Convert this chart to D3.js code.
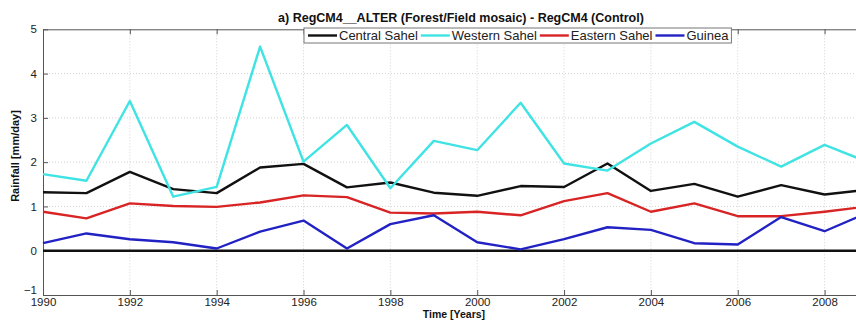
<!DOCTYPE html>
<html>
<head>
<meta charset="utf-8">
<script src="https://cdn.jsdelivr.net/npm/d3@7"></script>
<style>
  html, body { margin: 0; padding: 0; background: #fff; }
  svg { display: block; font-family: "Liberation Sans", Arial, sans-serif; }
</style>
</head>
<body>
<svg id="chart" width="856" height="320"></svg>
<script>
// Annual rainfall difference (ALTER - Control), mm/day
const years = [1990, 1991, 1992, 1993, 1994, 1995, 1996, 1997, 1998, 1999,
               2000, 2001, 2002, 2003, 2004, 2005, 2006, 2007, 2008, 2009];
const centralSahel = [1.32, 1.30, 1.78, 1.39, 1.30, 1.88, 1.96, 1.43, 1.54, 1.31,
                      1.24, 1.46, 1.44, 1.97, 1.35, 1.51, 1.22, 1.48, 1.27, 1.38];
const westernSahel = [1.73, 1.58, 3.38, 1.22, 1.44, 4.61, 2.01, 2.84, 1.41, 2.48,
                      2.27, 3.34, 1.97, 1.81, 2.42, 2.91, 2.35, 1.90, 2.39, 2.00];
const easternSahel = [0.88, 0.73, 1.07, 1.01, 0.99, 1.09, 1.25, 1.21, 0.86, 0.84,
                      0.88, 0.80, 1.12, 1.30, 0.88, 1.07, 0.78, 0.78, 0.88, 1.00];
const guinea       = [0.17, 0.39, 0.26, 0.19, 0.05, 0.43, 0.68, 0.05, 0.60, 0.80,
                      0.19, 0.03, 0.26, 0.53, 0.47, 0.17, 0.14, 0.76, 0.44, 0.86];
const seriesNames  = ["Central Sahel", "Western Sahel", "Eastern Sahel", "Guinea"];
const seriesColors = ["#111111", "#3fe3e3", "#d82424", "#2222c4"];
const xTicks = [1990, 1992, 1994, 1996, 1998, 2000, 2002, 2004, 2006, 2008];
const yTicks = [-1, 0, 1, 2, 3, 4, 5];
const titleText = "a) RegCM4__ALTER (Forest/Field mosaic) - RegCM4 (Control)";
const xLabelText = "Time [Years]";
const yLabelText = "Rainfall [mm/day]";

const seriesValues = [centralSahel, westernSahel, easternSahel, guinea];

const svg = d3.select("#chart");
const m = { left: 43, right: 868, top: 29.3, bottom: 295 };

const x = d3.scaleLinear().domain([1990, 2009]).range([m.left, m.right]);
const y = d3.scaleLinear().domain([-1, 5]).range([m.bottom, m.top]);

// Grid
const grid = svg.append("g");
grid.selectAll("line.vg").data(xTicks.slice(1)).join("line")
  .attr("x1", d => x(d)).attr("x2", d => x(d))
  .attr("y1", m.top).attr("y2", m.bottom)
  .attr("stroke", "#c8c8c8").attr("stroke-width", 0.8).attr("stroke-dasharray", "1,2");
grid.selectAll("line.hg").data(yTicks.slice(1, -1)).join("line")
  .attr("x1", m.left).attr("x2", m.right)
  .attr("y1", d => y(d)).attr("y2", d => y(d))
  .attr("stroke", "#c8c8c8").attr("stroke-width", 0.8).attr("stroke-dasharray", "1,2");

// Axes (ticks pointing inward)
const xAxis = svg.append("g").attr("transform", `translate(0,${m.bottom})`)
  .call(d3.axisBottom(x).tickValues(xTicks).tickFormat(d3.format("d")).tickSizeInner(-5).tickSizeOuter(0).tickPadding(3));
const xAxisTop = svg.append("g").attr("transform", `translate(0,${m.top})`)
  .call(d3.axisTop(x).tickValues(xTicks).tickFormat("").tickSizeInner(-5).tickSizeOuter(0));
const yAxis = svg.append("g").attr("transform", `translate(${m.left},0)`)
  .call(d3.axisLeft(y).tickValues(yTicks).tickFormat(d3.format("d")).tickSizeInner(-5).tickSizeOuter(0).tickPadding(6));

[xAxis, xAxisTop, yAxis].forEach(a => {
  a.select(".domain").attr("stroke", "#555").attr("stroke-width", 1);
  a.selectAll(".tick line").attr("stroke", "#555");
  a.selectAll("text").attr("font-size", 11.5).attr("fill", "#222")
    .attr("font-family", "'Liberation Sans', Arial, sans-serif");
});
// lowest y label sits just above the corner, clear of the first year label
yAxis.selectAll(".tick text").filter(d => d === -1).attr("dy", "-0.15em");

// Zero reference line
svg.append("line")
  .attr("x1", x(1990)).attr("x2", x(2009))
  .attr("y1", y(0)).attr("y2", y(0))
  .attr("stroke", "#111").attr("stroke-width", 2.4);

// Series lines
const line = d3.line().x((d, i) => x(years[i])).y(d => y(d));
svg.append("g").selectAll("path").data(seriesValues).join("path")
  .attr("d", line)
  .attr("fill", "none")
  .attr("stroke", (d, i) => seriesColors[i])
  .attr("stroke-width", 2.4)
  .attr("stroke-linejoin", "round");

// Title and axis labels
svg.append("text").attr("x", 461).attr("y", 22)
  .attr("text-anchor", "middle").attr("font-size", 12.5).attr("font-weight", "bold")
  .attr("fill", "#111").text(titleText);
svg.append("text").attr("x", 454).attr("y", 317.5)
  .attr("text-anchor", "middle").attr("font-size", 10.5).attr("font-weight", "bold")
  .attr("fill", "#111").text(xLabelText);
svg.append("text").attr("transform", "translate(19,156) rotate(-90)")
  .attr("text-anchor", "middle").attr("font-size", 11).attr("font-weight", "bold")
  .attr("fill", "#111").text(yLabelText);

// Legend
const legend = svg.append("g");
const legendBox = legend.append("rect")
  .attr("x", 304).attr("y", 28).attr("height", 15)
  .attr("fill", "#fff").attr("stroke", "#777").attr("stroke-width", 1);
let lx = 308;
seriesNames.forEach((name, i) => {
  legend.append("line").attr("x1", lx).attr("x2", lx + 29)
    .attr("y1", 35.5).attr("y2", 35.5)
    .attr("stroke", seriesColors[i]).attr("stroke-width", 2.4);
  const t = legend.append("text").attr("x", lx + 31).attr("y", 40)
    .attr("font-size", 13).attr("fill", "#222").text(name);
  lx += 31 + t.node().getComputedTextLength() + 3;
});
legendBox.attr("width", lx - 304);
</script>
</body>
</html>
